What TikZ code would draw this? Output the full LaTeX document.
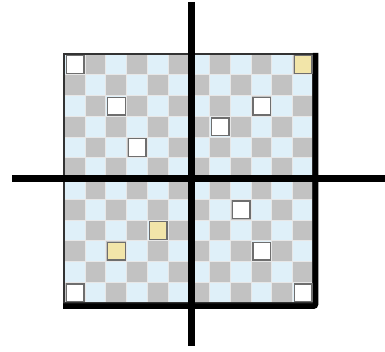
\documentclass[tikz,border=0pt]{standalone}
\usepackage{xcolor}
\usepackage{tikz}
\definecolor{cellg}{HTML}{C2C2C2}
\definecolor{cellb}{HTML}{DFF0F9}
\definecolor{mky}{HTML}{F2E5A9}
\definecolor{mkd}{HTML}{6E6E6E}
\definecolor{frm}{HTML}{333333}
\tikzset{
  ax/.style={line width=6.5,black},
  mk/.style={draw=mkd,line width=1.4},
  cl/.style={white!60!cellg,line width=0.5}
}
\begin{document}
\begin{tikzpicture}[x=1pt,y=-1pt]
\useasboundingbox (0,0) rectangle (385,352);
\def\s{20.75}
% board cells
\foreach \r in {0,...,11}{\foreach \c in {0,...,11}{
  \pgfmathtruncatemacro\p{\r+\c}
  \ifodd\p \def\fc{cellg}\else\def\fc{cellb}\fi
  \fill[\fc] ({64+\c*\s},{54+\r*\s}) rectangle +(\s,\s);
}}
\foreach \i in {1,...,11}{
  \draw[cl] ({64+\i*\s},54) -- ({64+\i*\s},303);
  \draw[cl] (64,{54+\i*\s}) -- (313,{54+\i*\s});
}
% frame and shadow
\draw[frm,line width=1.6] (64,54) rectangle (313,303);
\draw[black,line width=5.5,rounded corners=2] (315.5,53) -- (315.5,306.2) -- (63,306.2);
% markers
\foreach \c/\r in {0/0,2/2,3/4,9/2,7/3,0/11,8/7,9/9,11/11}
  \draw[mk,fill=white] ({64+\c*\s+2.2},{54+\r*\s+1.8}) rectangle +(17.6,17.6);
\foreach \c/\r in {11/0,4/8,2/9}
  \draw[mk,fill=mky] ({64+\c*\s+2.2},{54+\r*\s+1.8}) rectangle +(17.6,17.6);
% axes
\draw[ax] (191.5,2) -- (191.5,346);
\draw[ax] (12,178.5) -- (385,178.5);
\end{tikzpicture}
\end{document}
